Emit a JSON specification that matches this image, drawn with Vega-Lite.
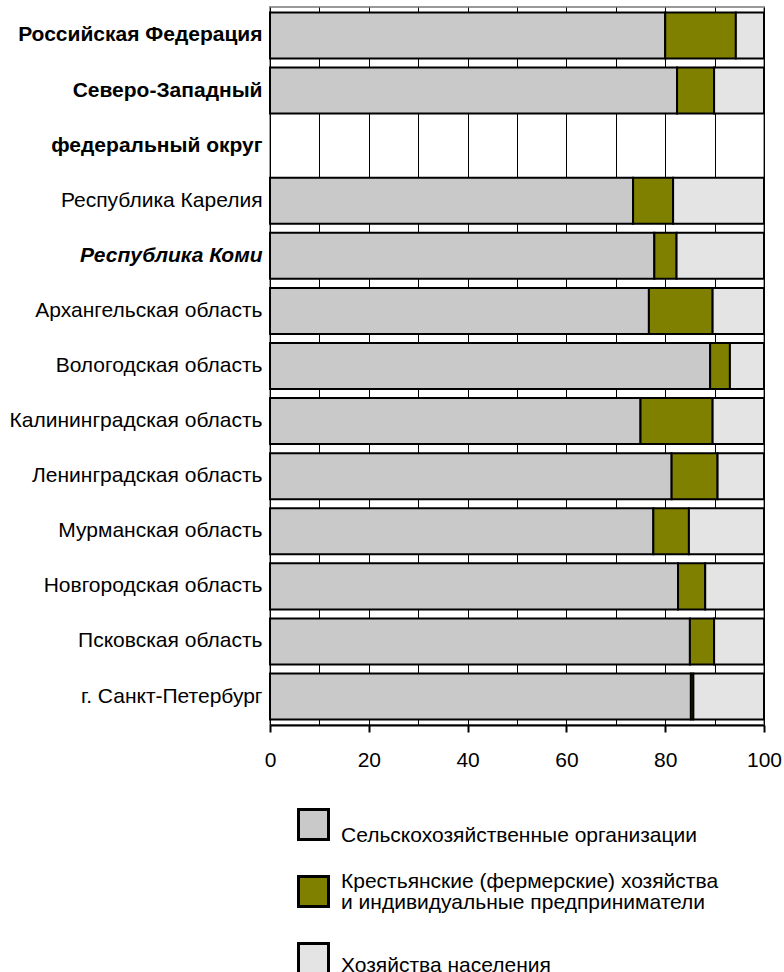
{
  "$schema": "https://vega.github.io/schema/vega-lite/v6.json",
  "autosize": {"type": "none"},
  "width": 494,
  "height": 718,
  "padding": {"left": 270, "top": 7, "right": 20, "bottom": 247},
  "background": "white",
  "config": {
    "font": "Liberation Sans",
    "view": {"stroke": "#999999", "strokeWidth": 2}
  },
  "data": {
    "values": [
      {"region": "Российская Федерация", "cat": "Сельскохозяйственные организации", "ord": 1, "value": 80.0},
      {"region": "Российская Федерация", "cat": "Крестьянские (фермерские) хозяйства и индивидуальные предприниматели", "ord": 2, "value": 14.3},
      {"region": "Российская Федерация", "cat": "Хозяйства населения", "ord": 3, "value": 5.7},
      {"region": "Северо-Западный", "cat": "Сельскохозяйственные организации", "ord": 1, "value": 82.4},
      {"region": "Северо-Западный", "cat": "Крестьянские (фермерские) хозяйства и индивидуальные предприниматели", "ord": 2, "value": 7.5},
      {"region": "Северо-Западный", "cat": "Хозяйства населения", "ord": 3, "value": 10.1},
      {"region": "Республика Карелия", "cat": "Сельскохозяйственные организации", "ord": 1, "value": 73.5},
      {"region": "Республика Карелия", "cat": "Крестьянские (фермерские) хозяйства и индивидуальные предприниматели", "ord": 2, "value": 8.1},
      {"region": "Республика Карелия", "cat": "Хозяйства населения", "ord": 3, "value": 18.4},
      {"region": "Республика Коми", "cat": "Сельскохозяйственные организации", "ord": 1, "value": 77.8},
      {"region": "Республика Коми", "cat": "Крестьянские (фермерские) хозяйства и индивидуальные предприниматели", "ord": 2, "value": 4.5},
      {"region": "Республика Коми", "cat": "Хозяйства населения", "ord": 3, "value": 17.7},
      {"region": "Архангельская область", "cat": "Сельскохозяйственные организации", "ord": 1, "value": 76.7},
      {"region": "Архангельская область", "cat": "Крестьянские (фермерские) хозяйства и индивидуальные предприниматели", "ord": 2, "value": 12.9},
      {"region": "Архангельская область", "cat": "Хозяйства населения", "ord": 3, "value": 10.4},
      {"region": "Вологодская область", "cat": "Сельскохозяйственные организации", "ord": 1, "value": 89.1},
      {"region": "Вологодская область", "cat": "Крестьянские (фермерские) хозяйства и индивидуальные предприниматели", "ord": 2, "value": 4.0},
      {"region": "Вологодская область", "cat": "Хозяйства населения", "ord": 3, "value": 6.9},
      {"region": "Калининградская область", "cat": "Сельскохозяйственные организации", "ord": 1, "value": 75.0},
      {"region": "Калининградская область", "cat": "Крестьянские (фермерские) хозяйства и индивидуальные предприниматели", "ord": 2, "value": 14.6},
      {"region": "Калининградская область", "cat": "Хозяйства населения", "ord": 3, "value": 10.4},
      {"region": "Ленинградская область", "cat": "Сельскохозяйственные организации", "ord": 1, "value": 81.3},
      {"region": "Ленинградская область", "cat": "Крестьянские (фермерские) хозяйства и индивидуальные предприниматели", "ord": 2, "value": 9.3},
      {"region": "Ленинградская область", "cat": "Хозяйства населения", "ord": 3, "value": 9.4},
      {"region": "Мурманская область", "cat": "Сельскохозяйственные организации", "ord": 1, "value": 77.6},
      {"region": "Мурманская область", "cat": "Крестьянские (фермерские) хозяйства и индивидуальные предприниматели", "ord": 2, "value": 7.2},
      {"region": "Мурманская область", "cat": "Хозяйства населения", "ord": 3, "value": 15.2},
      {"region": "Новгородская область", "cat": "Сельскохозяйственные организации", "ord": 1, "value": 82.6},
      {"region": "Новгородская область", "cat": "Крестьянские (фермерские) хозяйства и индивидуальные предприниматели", "ord": 2, "value": 5.5},
      {"region": "Новгородская область", "cat": "Хозяйства населения", "ord": 3, "value": 11.9},
      {"region": "Псковская область", "cat": "Сельскохозяйственные организации", "ord": 1, "value": 85.0},
      {"region": "Псковская область", "cat": "Крестьянские (фермерские) хозяйства и индивидуальные предприниматели", "ord": 2, "value": 4.9},
      {"region": "Псковская область", "cat": "Хозяйства населения", "ord": 3, "value": 10.1},
      {"region": "г. Санкт-Петербург", "cat": "Сельскохозяйственные организации", "ord": 1, "value": 85.2},
      {"region": "г. Санкт-Петербург", "cat": "Крестьянские (фермерские) хозяйства и индивидуальные предприниматели", "ord": 2, "value": 0.5},
      {"region": "г. Санкт-Петербург", "cat": "Хозяйства населения", "ord": 3, "value": 14.3}
    ]
  },
  "mark": {"type": "bar", "stroke": "black", "strokeWidth": 2},
  "encoding": {
    "y": {
      "field": "region",
      "type": "nominal",
      "title": null,
      "scale": {
        "domain": ["Российская Федерация", "Северо-Западный", "федеральный округ", "Республика Карелия", "Республика Коми", "Архангельская область", "Вологодская область", "Калининградская область", "Ленинградская область", "Мурманская область", "Новгородская область", "Псковская область", "г. Санкт-Петербург"],
        "paddingInner": 0.164,
        "paddingOuter": 0.098
      },
      "axis": {
        "domain": false,
        "ticks": false,
        "labelPadding": 8,
        "labelFontSize": 21,
        "labelColor": "black",
        "labelLimit": 300,
        "labelFontWeight": {"condition": {"test": "indexof(['Российская Федерация','Северо-Западный','федеральный округ','Республика Коми'], datum.value) >= 0", "value": "bold"}, "value": "normal"},
        "labelFontStyle": {"condition": {"test": "datum.value == 'Республика Коми'", "value": "italic"}, "value": "normal"}
      }
    },
    "x": {
      "field": "value",
      "type": "quantitative",
      "stack": "zero",
      "title": null,
      "scale": {"domain": [0, 100], "nice": false},
      "axis": {
        "values": [0, 10, 20, 30, 40, 50, 60, 70, 80, 90, 100],
        "grid": true,
        "gridColor": "black",
        "gridOpacity": 1,
        "gridWidth": 1,
        "domainColor": "black",
        "domainWidth": 2,
        "tickColor": {"condition": {"test": "datum.value % 20 == 0", "value": "black"}, "value": "transparent"},
        "tickSize": 7,
        "tickWidth": 2,
        "labelExpr": "datum.value % 20 == 0 ? datum.label : ''",
        "labelFontSize": 21,
        "labelColor": "black",
        "labelPadding": 17,
        "labelFlush": false
      }
    },
    "order": {"field": "ord", "type": "quantitative"},
    "color": {
      "field": "cat",
      "type": "nominal",
      "scale": {
        "domain": ["Сельскохозяйственные организации", "Крестьянские (фермерские) хозяйства и индивидуальные предприниматели", "Хозяйства населения"],
        "range": ["#c9c9c9", "#808000", "#e4e4e4"]
      },
      "legend": {
        "title": null,
        "orient": "none",
        "legendX": 27,
        "legendY": 801,
        "symbolType": "square",
        "symbolSize": 900,
        "symbolStrokeColor": "black",
        "symbolStrokeWidth": 3,
        "symbolOpacity": 1,
        "labelFontSize": 21,
        "labelColor": "black",
        "labelOffset": 11,
        "labelLimit": 500,
        "rowPadding": 24,
        "labelExpr": "datum.label == 'Крестьянские (фермерские) хозяйства и индивидуальные предприниматели' ? ['Крестьянские (фермерские) хозяйства', 'и индивидуальные предприниматели'] : datum.label",
        "encode": {
          "labels": {
            "update": {
              "lineHeight": {"value": 21},
              "dy": [
                {"test": "datum.index == 1", "value": -10},
                {"test": "datum.index == 2", "value": 7},
                {"value": 11}
              ]
            }
          }
        }
      }
    }
  }
}
